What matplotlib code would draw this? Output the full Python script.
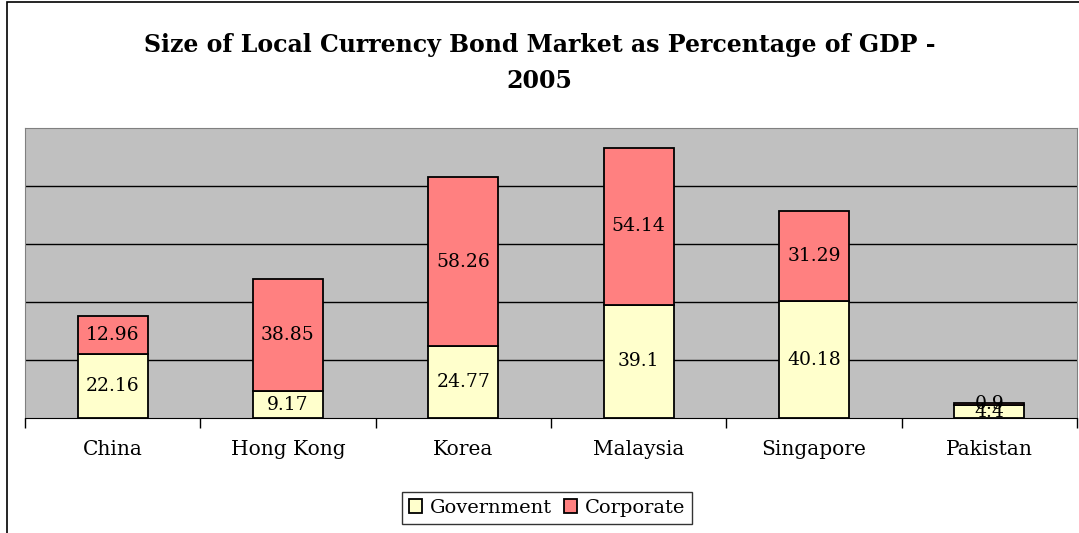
import numpy as np
import matplotlib.pyplot as plt
from matplotlib.patches import Rectangle

# data
countries = ["China", "Hong Kong", "Korea", "Malaysia", "Singapore", "Pakistan"]
government = [22.16, 9.17, 24.77, 39.1, 40.18, 4.4]
corporate = [12.96, 38.85, 58.26, 54.14, 31.29, 0.9]

GOV_COLOR = "#FFFFCC"
CORP_COLOR = "#FF8080"
FONT = "DejaVu Serif"


def main():
    fig = plt.figure(figsize=(10.79, 5.33), dpi=100)
    # outer chart border
    fig.patches.append(Rectangle((7 / 1079, -0.05), 1.2, 1.05 - 2 / 533, transform=fig.transFigure,
                                 fill=False, edgecolor="black", linewidth=1.2))
    ax = fig.add_axes([25 / 1079, 115 / 533, 1052 / 1079, 290 / 533])
    ax.set_facecolor("#C0C0C0")

    x = np.arange(len(countries))
    width = 0.4
    ax.bar(x, government, width, color=GOV_COLOR, edgecolor="black", linewidth=1.3,
           label="Government", zorder=3)
    ax.bar(x, corporate, width, bottom=government, color=CORP_COLOR, edgecolor="black",
           linewidth=1.3, label="Corporate", zorder=3)

    for i in range(len(countries)):
        ax.text(x[i], government[i] / 2, "%g" % government[i], ha="center", va="center",
                fontsize=13.5, family=FONT, zorder=4)
        ax.text(x[i], government[i] + corporate[i] / 2, "%g" % corporate[i], ha="center",
                va="center", fontsize=13.5, family=FONT, zorder=4)

    ax.set_xlim(-0.5, len(countries) - 0.5)
    ax.set_ylim(0, 100)
    ax.set_yticks([20, 40, 60, 80])
    ax.yaxis.grid(True, color="black", linewidth=1)
    ax.set_axisbelow(True)
    ax.tick_params(axis="y", left=False, labelleft=False)

    ax.set_xticks(x)
    ax.set_xticklabels(countries, family=FONT, fontsize=14.5)
    ax.tick_params(axis="x", which="major", length=0, pad=16)
    ax.set_xticks(np.arange(len(countries) + 1) - 0.5, minor=True)
    ax.tick_params(axis="x", which="minor", length=7, color="black", width=1)

    for side in ["top", "right", "left"]:
        ax.spines[side].set_color("#808080")
    ax.spines["bottom"].set_color("black")

    fig.text(0.5, 1 - 63 / 533, "Size of Local Currency Bond Market as Percentage of GDP -\n2005",
             ha="center", va="center", fontsize=17, fontweight="bold", family=FONT,
             linespacing=1.65)

    leg = ax.legend(loc="center", bbox_to_anchor=(547 / 1079, 25 / 533),
                    bbox_transform=fig.transFigure, ncol=2, frameon=True, fancybox=False,
                    edgecolor="black", prop={"family": FONT, "size": 14},
                    handlelength=0.7, handleheight=0.7, handletextpad=0.4, columnspacing=0.6,
                    borderpad=0.35)
    leg.get_frame().set_linewidth(1)

    fig.savefig("out.png", dpi=100)


if __name__ == "__main__":
    main()
